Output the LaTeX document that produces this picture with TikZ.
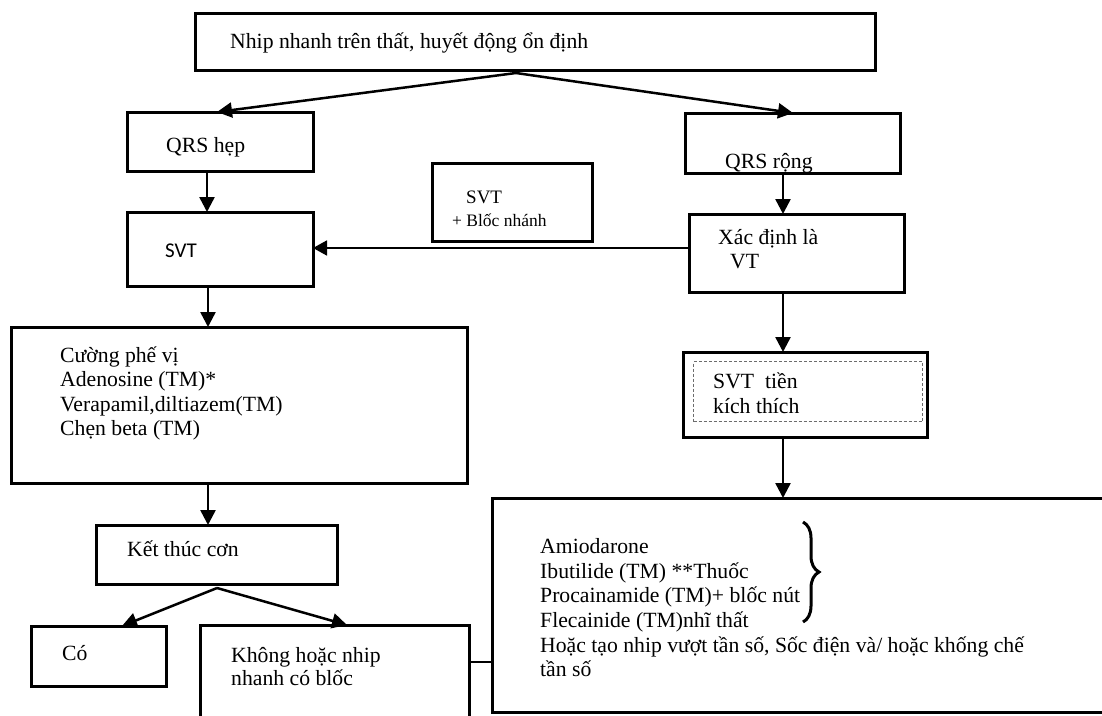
\documentclass[tikz,border=0pt]{standalone}
\usepackage{fontspec}
\setmainfont{Liberation Serif}
\newfontfamily\sansf{Carlito}
\usetikzlibrary{arrows.meta,decorations.pathreplacing,calc}
\begin{document}
\begin{tikzpicture}[x=1pt,y=-1pt,
  box/.style={draw,line width=3pt,rectangle,anchor=north west,inner sep=0pt,outer sep=0pt},
  txt/.style={anchor=base west,inner sep=0pt,font=\fontsize{21.7}{24.6}\selectfont},
  arr/.style={line width=2.5pt,-{Triangle[length=15pt,width=15pt]}},
  thinarr/.style={line width=1.8pt,-{Triangle[length=14pt,width=15pt]}},
  conn/.style={line width=2.3pt}]
\useasboundingbox (0,0) rectangle (1102,715);
\clip (0,0) rectangle (1102,715);
\fill[white] (0,0) rectangle (1102,715);

% boxes
\node[box,minimum width=680pt,minimum height=57pt] (top) at (195,13) {};
\node[box,minimum width=186pt,minimum height=59pt] (qrsh) at (127,112) {};
\node[box,minimum width=215pt,minimum height=60pt] (qrsr) at (685,113) {};
\node[box,minimum width=160pt,minimum height=78pt] (svtb) at (432,163) {};
\node[box,minimum width=186pt,minimum height=74pt] (svt) at (127,212) {};
\node[box,minimum width=215pt,minimum height=78pt] (xac) at (689,214) {};
\node[box,minimum width=244pt,minimum height=85pt] (tien) at (683,352) {};
\node[draw=gray!85!black,densely dashed,line width=1.2pt,rectangle,anchor=north west,inner sep=0pt,
      minimum width=229pt,minimum height=60pt] (tienin) at (693,361) {};
\node[box,minimum width=456pt,minimum height=156pt] (cuong) at (11,327) {};
\node[box,minimum width=241pt,minimum height=59pt] (ket) at (96,525) {};
\node[box,minimum width=135pt,minimum height=60pt] (co) at (31,626) {};
\node[box,minimum width=269pt,minimum height=115pt] (khong) at (200,625) {};
\node[box,minimum width=628pt,minimum height=214pt] (big) at (492,498) {};

% texts
\node[txt] (topT) at (230,48) {Nhip nhanh trên thất, huyết động ổn định};
\node[txt] (qrshT) at (166,152) {QRS hẹp};
\node[txt] (qrsrT) at (725,168) {QRS rộng};
\node[txt,font=\fontsize{19}{22}\selectfont] (svtbT1) at (466,203) {SVT};
\node[txt,font=\fontsize{17.5}{20}\selectfont] (svtbT2) at (452,226) {+ Blốc nhánh};
\node[txt,font=\sansf\fontsize{21}{24}\selectfont] (svtT) at (165,257) {SVT};
\node[txt] (xacT1) at (718,244) {Xác định là};
\node[txt] (xacT2) at (730,268) {VT};
\node[txt] (tienT1) at (713,388) {SVT\ \ tiền};
\node[txt] (tienT2) at (713,413) {kích thích};
\node[txt] (cuT1) at (60,362) {Cường phế vị};
\node[txt] (cuT2) at (60,386) {Adenosine (TM)*};
\node[txt] (cuT3) at (60,411) {Verapamil,diltiazem(TM)};
\node[txt] (cuT4) at (60,435) {Chẹn beta (TM)};
\node[txt] (ketT) at (127,556) {Kết thúc cơn};
\node[txt] (coT) at (62,660) {Có};
\node[txt] (khT1) at (231,662) {Không hoặc nhip};
\node[txt] (khT2) at (231,685) {nhanh có blốc};
\node[txt] (bT1) at (540,553) {Amiodarone};
\node[txt] (bT2) at (540,578) {Ibutilide (TM) **Thuốc};
\node[txt] (bT3) at (540,602) {Procainamide (TM)+ blốc nút};
\node[txt] (bT4) at (540,627) {Flecainide (TM)nhĩ thất};
\node[txt] (bT5) at (540,652) {Hoặc tạo nhip vượt tần số, Sốc điện và/ hoặc khống chế};
\node[txt] (bT6) at (540,676) {tần số};

% brace
\draw[line width=3pt,decorate,decoration={brace,amplitude=16pt,aspect=0.5}] (803,522) -- (803,622);

% connectors
\coordinate (tsplit) at (516,73);
\coordinate (ksplit) at (217,588);
\draw[arr] (tsplit) -- (217,0 |- qrsh.north);
\draw[arr] (tsplit) -- (793,0 |- qrsr.north);
\draw[arr] (207,0 |- qrsh.south) -- (207,0 |- svt.north);
\draw[arr] (783,0 |- qrsr.south) -- (783,0 |- xac.north);
\draw[thinarr] (xac.west |- 0,248) -- (svt.east |- 0,248);
\draw[arr] (783,0 |- xac.south) -- (783,0 |- tien.north);
\draw[arr] (208,0 |- svt.south) -- (208,0 |- cuong.north);
\draw[arr] (208,0 |- cuong.south) -- (208,0 |- ket.north);
\draw[arr] (783,0 |- tien.south) -- (783,0 |- big.north);
\draw[arr] (ksplit) -- (122,0 |- co.north);
\draw[arr] (ksplit) -- (347,0 |- khong.north);
\draw[conn] (khong.east |- 0,662) -- (big.west |- 0,662);
\end{tikzpicture}
\end{document}
